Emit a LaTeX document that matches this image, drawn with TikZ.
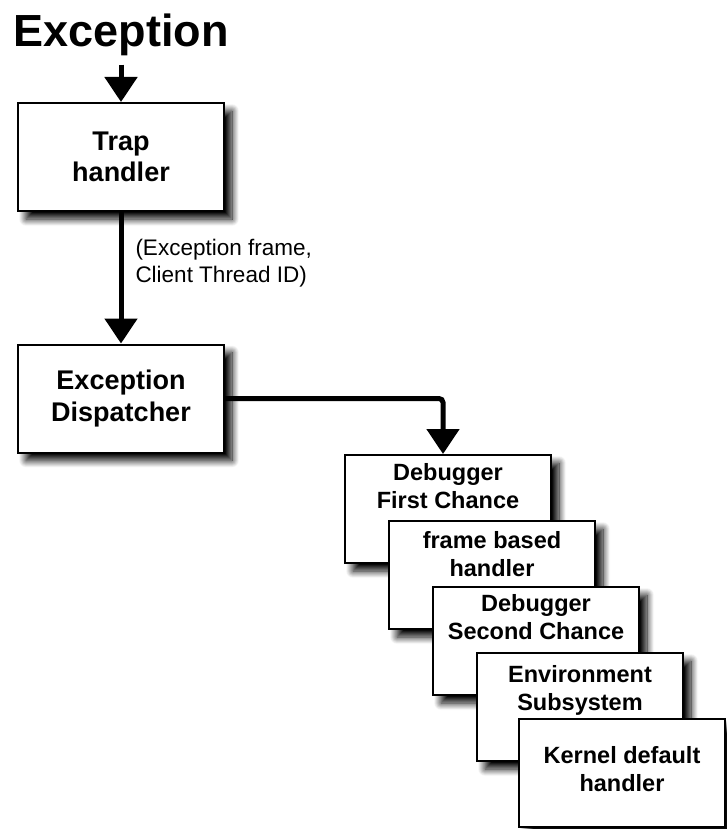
\documentclass[tikz,border=0pt]{standalone}
\usepackage{fontspec}
\setmainfont{Liberation Sans}
\usetikzlibrary{arrows.meta,shadows.blur}
\begin{document}
\begin{tikzpicture}[x=1pt,y=-1pt,
  box/.style={draw=black, line width=2pt, fill=white,
    minimum width=206pt, minimum height=108pt, inner sep=0pt,
    blur shadow={shadow xshift=8pt, shadow yshift=-8pt,
      shadow blur radius=7pt, shadow blur steps=14, shadow opacity=100}},
  bigtext/.style={font=\bfseries\fontsize{27}{31.5}\selectfont, align=center},
  stacktext/.style={font=\bfseries\fontsize{23.5}{28}\selectfont, align=center, inner sep=0pt},
  flow/.style={line width=5pt, -{Triangle[width=32pt,length=25pt]}},
]
\useasboundingbox (0,0) rectangle (726,829);

% title and the first two stages
\node[font=\bfseries\fontsize{45}{54}\selectfont, inner sep=0pt, anchor=base] (title) at (121,47) {Exception};
\node[box, bigtext] (trap) at (121,157) {Trap\\handler};
\node[box, bigtext] (disp) at (121,398.5) {Exception\\Dispatcher};

\draw[flow, shorten <=8pt] (title.south) -- (trap.north);
\draw[flow] (trap.south) -- node[pos=0.39, right=12pt, inner sep=0pt, align=left,
    font=\fontsize{22.5}{27}\selectfont] (args) {(Exception frame,\\ Client Thread ID)} (disp.north);

% cascade of handlers, each one partly covering the previous
\node[box] (b1) at (448,509) {};
\node[stacktext, anchor=north, yshift=-9pt] (t1) at (b1.north) {Debugger\\First Chance};
\node[box] (b2) at (492,575) {};
\node[stacktext, anchor=north, yshift=-11pt] (t2) at (b2.north) {frame based\\handler};
\node[box] (b3) at (536,641) {};
\node[stacktext, anchor=north, yshift=-8pt] (t3) at (b3.north) {Debugger\\Second Chance};
\node[box] (b4) at (580,707) {};
\node[stacktext, anchor=north, yshift=-13pt] (t4) at (b4.north) {Environment\\Subsystem};
\node[box] (b5) at (622,773) {};
\node[stacktext, yshift=4pt] (t5) at (b5.center) {Kernel default\\handler};

\draw[flow, rounded corners=4pt] (disp.east) -| ([xshift=-5pt]b1.north);
\end{tikzpicture}
\end{document}
